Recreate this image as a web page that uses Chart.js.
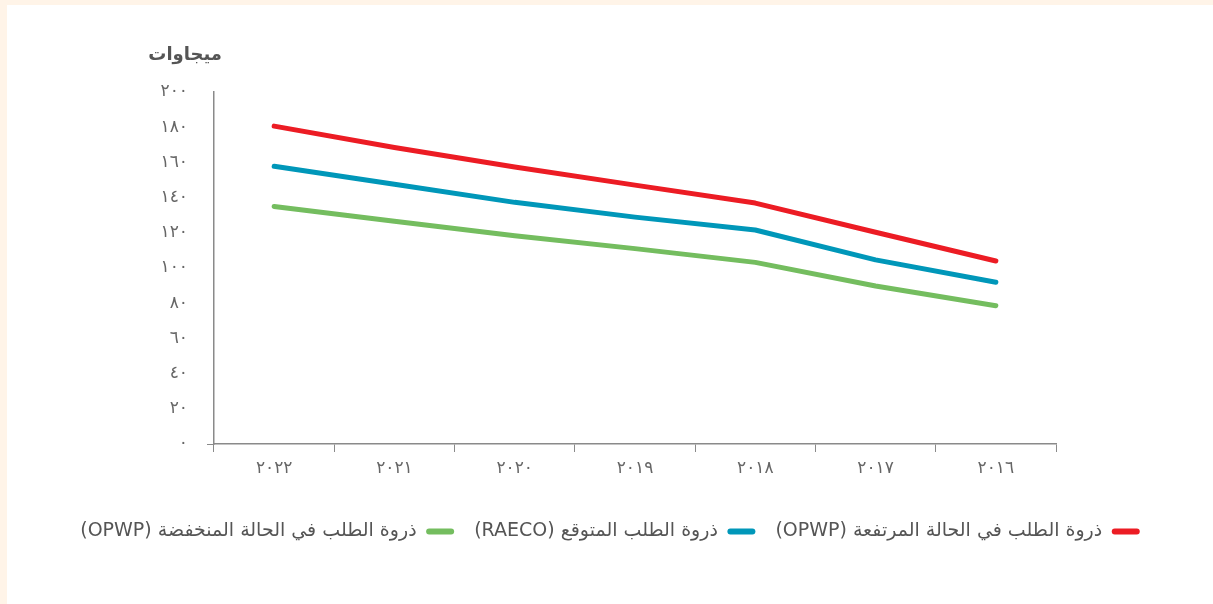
<!DOCTYPE html>
<html lang="ar">
<head>
<meta charset="utf-8">
<script src="https://cdn.jsdelivr.net/npm/chart.js@4.4.1/dist/chart.umd.min.js"></script>
<style>
  html, body { margin: 0; padding: 0; background: #fff; }
  .wrap {
    width: 1206px; height: 599px;
    border-top: 5px solid #fff4e8;
    border-left: 7px solid #fff4e8;
    background: #fff;
  }
</style>
</head>
<body>
<div class="wrap"><canvas id="myChart" width="1206" height="599"></canvas></div>
<script>
// data, chronological; the x axis is drawn reversed (2022 on the left)
const years = ['2016', '2017', '2018', '2019', '2020', '2021', '2022'];
const highDemand = [104, 120.3, 136.9, 147.1, 157.4, 168.5, 180.6];
const expectedDemand = [91.9, 104.6, 121.6, 128.9, 137.3, 147.6, 157.8];
const lowDemand = [78.6, 89.8, 103.2, 111, 118.3, 126.6, 135];
const seriesNames = [
  'ذروة الطلب في الحالة المرتفعة (OPWP)',
  'ذروة الطلب المتوقع (RAECO)',
  'ذروة الطلب في الحالة المنخفضة (OPWP)'
];
const yTitle = 'ميجاوات';

const arDigits = '٠١٢٣٤٥٦٧٨٩';
const toArabic = (v) => String(v).replace(/[0-9]/g, d => arDigits[d]);

const font = "'DejaVu Sans', sans-serif";
const gray = '#8a8a8a';

const makeSet = (label, data, color) => ({
  label: label,
  data: data,
  borderColor: color,
  backgroundColor: color,
  borderWidth: 5,
  borderCapStyle: 'round',
  borderJoinStyle: 'round',
  pointRadius: 0,
  tension: 0
});

// unit label above the y axis, right-aligned near the axis line
const unitLabel = {
  id: 'unitLabel',
  afterDraw(chart) {
    const c = chart.ctx;
    c.save();
    c.font = "bold 18px " + font;
    c.fillStyle = '#555';
    c.textAlign = 'right';
    c.textBaseline = 'middle';
    c.fillText(yTitle, chart.chartArea.left + 8, 50);
    c.restore();
  }
};

const ctx = document.getElementById('myChart');
const myChart = new Chart(ctx, {
  type: 'line',
  data: {
    labels: years,
    datasets: [
      makeSet(seriesNames[0], highDemand, '#ec1c24'),
      makeSet(seriesNames[1], expectedDemand, '#0097b9'),
      makeSet(seriesNames[2], lowDemand, '#74bd5f')
    ]
  },
  plugins: [unitLabel],
  options: {
    responsive: false,
    animation: false,
    layout: { padding: { left: 0, right: 0, top: 87, bottom: 53 } },
    plugins: {
      tooltip: { enabled: false },
      legend: {
        position: 'bottom',
        rtl: true,
        textDirection: 'rtl',
        labels: {
          color: '#555',
          font: { family: font, size: 19 },
          boxWidth: 28,
          boxHeight: 6,
          useBorderRadius: true,
          borderRadius: 3,
          padding: 20,
          generateLabels: (chart) =>
            Chart.defaults.plugins.legend.labels.generateLabels(chart)
              .map(l => ({ ...l, lineWidth: 0 }))
        }
      }
    },
    scales: {
      x: {
        reverse: true,
        offset: true,
        afterFit: (s) => { s.height = 58; },
        border: { display: true, color: gray, width: 1.5 },
        grid: {
          offset: true,
          drawOnChartArea: false,
          drawTicks: true,
          tickLength: 8,
          color: gray
        },
        ticks: {
          color: '#666',
          padding: 6,
          font: { family: font, size: 17 },
          callback: function (v) { return toArabic(this.getLabelForValue(v)); }
        }
      },
      y: {
        min: 0,
        max: 200,
        afterFit: (s) => { s.width = 207; },
        border: { display: true, color: gray, width: 1.5 },
        grid: {
          drawOnChartArea: false,
          tickLength: 7,
          color: (c) => (c.tick && c.tick.value === 0 ? gray : 'rgba(0,0,0,0)')
        },
        ticks: {
          stepSize: 20,
          color: '#666',
          padding: 19,
          font: { family: font, size: 17 },
          callback: (v) => toArabic(v)
        }
      },
      // empty axis that only keeps the white space on the right
      spacer: {
        position: 'right',
        afterFit: (s) => { s.width = 157; },
        border: { display: false },
        grid: { display: false },
        ticks: { display: false }
      }
    }
  }
});
</script>
</body>
</html>
